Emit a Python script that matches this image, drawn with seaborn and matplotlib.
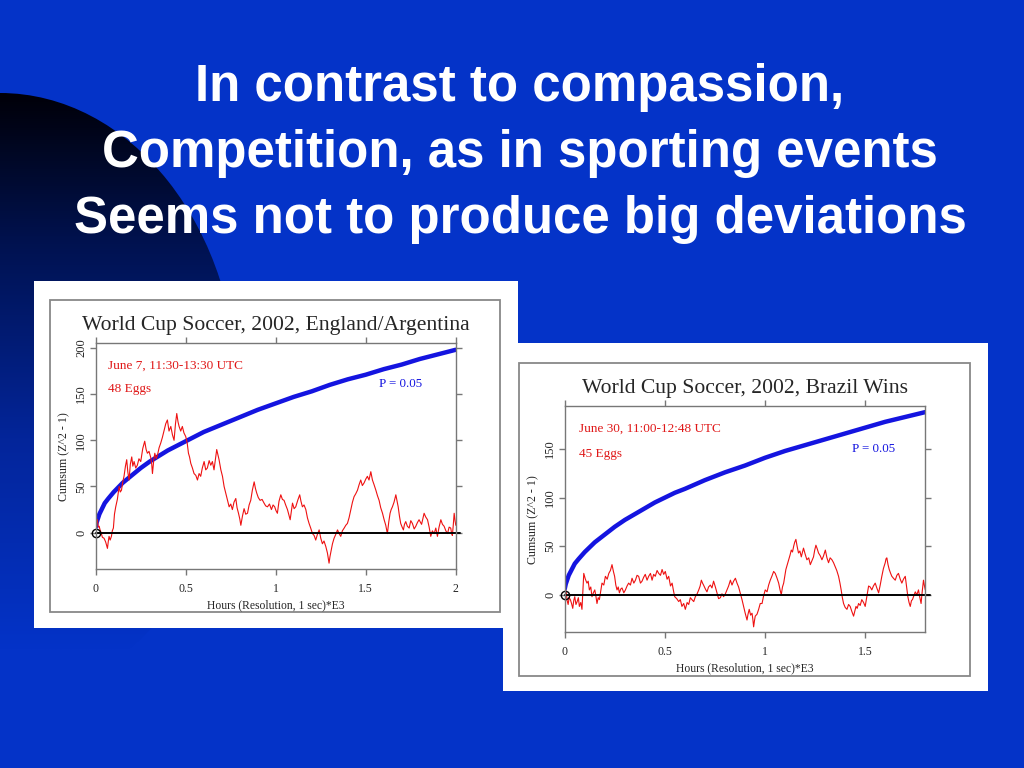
import numpy as np
import pandas as pd
import matplotlib
matplotlib.use('Agg')
import matplotlib.pyplot as plt
import seaborn as sns
from matplotlib.patches import Rectangle, Ellipse
from matplotlib.colors import LinearSegmentedColormap

# Slide title
title_lines = ['In contrast to compassion,',
               'Competition, as in sporting events',
               'Seems not to produce big deviations']

# Chart 1: England / Argentina
eng_title = 'World Cup Soccer, 2002, England/Argentina'
eng_date = 'June 7, 11:30-13:30 UTC'
eng_eggs = '48 Eggs'
eng_x = [0.000, 0.005, 0.009, 0.014, 0.019, 0.024, 0.028, 0.037, 0.046, 0.055,
         0.065, 0.070, 0.074, 0.080, 0.087, 0.092, 0.098, 0.104, 0.111, 0.120,
         0.130, 0.136, 0.143, 0.150, 0.157, 0.165, 0.172, 0.178, 0.185, 0.192,
         0.200, 0.206, 0.213, 0.222, 0.231, 0.240, 0.250, 0.261, 0.272, 0.280,
         0.287, 0.296, 0.306, 0.311, 0.315, 0.322, 0.328, 0.336, 0.343, 0.352,
         0.361, 0.370, 0.380, 0.389, 0.398, 0.407, 0.417, 0.426, 0.435, 0.443,
         0.450, 0.457, 0.463, 0.472, 0.481, 0.490, 0.500, 0.508, 0.515, 0.521,
         0.528, 0.537, 0.546, 0.556, 0.565, 0.574, 0.583, 0.592, 0.602, 0.611,
         0.620, 0.630, 0.639, 0.648, 0.657, 0.665, 0.672, 0.679, 0.685, 0.695,
         0.704, 0.713, 0.722, 0.731, 0.741, 0.750, 0.759, 0.768, 0.778, 0.785,
         0.793, 0.800, 0.806, 0.815, 0.824, 0.833, 0.843, 0.852, 0.861, 0.870,
         0.880, 0.887, 0.894, 0.903, 0.913, 0.924, 0.935, 0.944, 0.954, 0.965,
         0.976, 0.985, 0.994, 1.001, 1.009, 1.018, 1.028, 1.037, 1.046, 1.055,
         1.065, 1.072, 1.080, 1.087, 1.093, 1.102, 1.111, 1.122, 1.133, 1.140,
         1.148, 1.157, 1.167, 1.176, 1.185, 1.194, 1.204, 1.213, 1.222, 1.231,
         1.241, 1.250, 1.259, 1.268, 1.278, 1.287, 1.296, 1.301, 1.306, 1.315,
         1.324, 1.333, 1.343, 1.352, 1.361, 1.370, 1.380, 1.389, 1.398, 1.407,
         1.417, 1.426, 1.435, 1.444, 1.454, 1.463, 1.472, 1.481, 1.491, 1.500,
         1.509, 1.518, 1.528, 1.537, 1.546, 1.556, 1.565, 1.574, 1.583, 1.593,
         1.602, 1.611, 1.620, 1.628, 1.635, 1.641, 1.648, 1.657, 1.667, 1.674,
         1.680, 1.687, 1.694, 1.702, 1.709, 1.715, 1.722, 1.731, 1.741, 1.750,
         1.759, 1.769, 1.778, 1.787, 1.796, 1.810, 1.824, 1.833, 1.843, 1.852,
         1.861, 1.870, 1.880, 1.889, 1.898, 1.907, 1.917, 1.926, 1.935, 1.945,
         1.954, 1.963, 1.972, 1.977, 1.981, 1.986, 1.991, 1.996, 2.000]
eng_y = [5, 12, 14, 6, 7, 3, 1, -5, -6, -10,
         -17, -9, -4, -8, -4, 2, 5, 20, 28, 36,
         50, 44, 46, 55, 61, 72, 79, 66, 57, 74,
         82, 72, 77, 70, 73, 80, 77, 91, 99, 90,
         86, 88, 81, 74, 64, 78, 86, 80, 84, 92,
         97, 103, 111, 118, 122, 110, 115, 106, 100, 118,
         129, 120, 115, 110, 115, 108, 104, 97, 86, 82,
         75, 70, 64, 62, 57, 64, 61, 70, 77, 68,
         70, 78, 73, 77, 68, 80, 90, 84, 79, 68,
         61, 50, 43, 36, 28, 31, 25, 33, 37, 27,
         21, 15, 8, 18, 26, 20, 21, 30, 35, 46,
         55, 48, 43, 38, 35, 36, 32, 29, 28, 31,
         25, 30, 28, 24, 21, 34, 41, 36, 35, 30,
         25, 20, 14, 24, 32, 26, 28, 35, 41, 34,
         28, 30, 25, 16, 10, 5, -1, -3, -8, -2,
         3, -6, -12, -9, -15, -22, -33, -26, -21, -12,
         -6, -2, 3, -1, -4, 2, 5, 8, 10, 16,
         25, 33, 39, 42, 46, 52, 57, 51, 54, 58,
         61, 57, 66, 57, 52, 46, 40, 35, 27, 21,
         14, 8, -1, 12, 21, 25, 28, 33, 41, 34,
         28, 18, 10, 6, 3, 9, 12, 7, 5, 13,
         10, 4, 7, 11, 14, 9, 21, 17, 14, 6,
         -4, 2, -1, 5, -4, 6, 14, 9, 7, 2,
         -1, 6, 5, -1, -3, 8, 21, 13, 8]
eng_env_x = [0, 0.005, 0.01, 0.02, 0.03, 0.05, 0.07, 0.1, 0.15, 0.2, 0.25,
             0.3, 0.35, 0.4, 0.45, 0.5, 0.55, 0.6, 0.7, 0.8, 0.9, 1.0, 1.1,
             1.2, 1.3, 1.4, 1.5, 1.6, 1.7, 1.8, 1.9, 2.0]
eng_env_y = [6, 11, 14, 20, 24, 32, 37, 44, 54, 62, 70,
             77, 83, 89, 94, 99, 104, 109, 117, 125, 133, 140, 147,
             153, 160, 166, 171, 177, 182, 188, 193, 198]

# Chart 2: Brazil wins
bra_title = 'World Cup Soccer, 2002, Brazil Wins'
bra_date = 'June 30, 11:00-12:48 UTC'
bra_eggs = '45 Eggs'
bra_x = [0.000, 0.004, 0.007, 0.012, 0.017, 0.022, 0.028, 0.034, 0.040, 0.045,
         0.050, 0.056, 0.062, 0.068, 0.073, 0.080, 0.086, 0.091, 0.095, 0.103,
         0.111, 0.117, 0.123, 0.130, 0.136, 0.143, 0.150, 0.156, 0.161, 0.167,
         0.173, 0.180, 0.186, 0.195, 0.203, 0.212, 0.220, 0.228, 0.236, 0.243,
         0.249, 0.255, 0.261, 0.267, 0.273, 0.280, 0.286, 0.295, 0.303, 0.311,
         0.319, 0.328, 0.336, 0.345, 0.353, 0.361, 0.369, 0.378, 0.386, 0.394,
         0.402, 0.411, 0.419, 0.428, 0.436, 0.444, 0.452, 0.461, 0.469, 0.478,
         0.486, 0.494, 0.502, 0.511, 0.519, 0.528, 0.536, 0.543, 0.549, 0.559,
         0.569, 0.577, 0.585, 0.594, 0.602, 0.611, 0.619, 0.627, 0.635, 0.644,
         0.652, 0.661, 0.669, 0.676, 0.682, 0.688, 0.693, 0.702, 0.710, 0.718,
         0.727, 0.735, 0.743, 0.752, 0.760, 0.768, 0.777, 0.785, 0.793, 0.802,
         0.810, 0.818, 0.827, 0.835, 0.843, 0.852, 0.860, 0.868, 0.876, 0.885,
         0.893, 0.901, 0.910, 0.915, 0.921, 0.928, 0.935, 0.939, 0.943, 0.947,
         0.951, 0.960, 0.968, 0.976, 0.985, 0.993, 1.001, 1.010, 1.018, 1.026,
         1.034, 1.043, 1.051, 1.060, 1.068, 1.075, 1.081, 1.087, 1.093, 1.099,
         1.104, 1.111, 1.118, 1.125, 1.131, 1.137, 1.143, 1.148, 1.154, 1.160,
         1.167, 1.174, 1.181, 1.187, 1.192, 1.200, 1.209, 1.218, 1.226, 1.234,
         1.242, 1.248, 1.254, 1.261, 1.267, 1.276, 1.284, 1.292, 1.301, 1.309,
         1.317, 1.325, 1.334, 1.342, 1.350, 1.358, 1.367, 1.374, 1.380, 1.386,
         1.392, 1.400, 1.409, 1.417, 1.425, 1.433, 1.442, 1.448, 1.454, 1.460,
         1.467, 1.475, 1.483, 1.492, 1.500, 1.508, 1.517, 1.525, 1.533, 1.541,
         1.550, 1.558, 1.567, 1.575, 1.583, 1.591, 1.600, 1.604, 1.608, 1.614,
         1.620, 1.627, 1.633, 1.641, 1.650, 1.658, 1.666, 1.675, 1.683, 1.691,
         1.700, 1.707, 1.713, 1.719, 1.725, 1.731, 1.736, 1.743, 1.750, 1.758,
         1.766, 1.772, 1.779, 1.785, 1.791, 1.796, 1.800]
bra_y = [0, 5, 3, -6, -10, -3, -5, -9, -14, -6,
         -2, -10, -7, -3, -12, -8, -15, 5, 22, 16,
         12, 14, 5, 8, -2, 2, 5, -2, -9, -3,
         -5, 4, 12, 10, 19, 16, 22, 25, 31, 24,
         19, 10, 5, 8, 2, 6, 7, 2, 5, 9,
         12, 10, 17, 12, 15, 20, 19, 12, 14, 18,
         21, 15, 19, 22, 15, 21, 19, 25, 22, 20,
         26, 21, 24, 16, 19, 9, 12, 4, -2, -4,
         -7, -5, -12, -9, -15, -8, -10, -3, -5, -7,
         -2, 1, 5, 9, 15, 12, 10, 6, 3, 8,
         10, 7, 14, 8, 2, -4, -3, 1, -2, 1,
         5, 9, 15, 10, 14, 17, 12, 8, 2, -5,
         -12, -19, -26, -20, -15, -21, -19, -25, -33, -27,
         -22, -20, -15, -9, -9, -1, 5, 3, 10, 15,
         19, 24, 22, 17, 12, 5, 0, 8, 12, 20,
         26, 31, 36, 41, 46, 44, 50, 54, 57, 50,
         43, 45, 39, 44, 48, 42, 36, 38, 31, 35,
         39, 46, 51, 47, 43, 40, 36, 40, 46, 38,
         33, 38, 36, 33, 29, 25, 19, 12, 5, -3,
         -9, -13, -15, -10, -12, -17, -22, -17, -12, -14,
         -9, -11, -5, -8, -12, -2, 9, 8, 5, 9,
         12, 7, 2, 10, 19, 27, 33, 37, 38, 31,
         26, 22, 19, 17, 15, 20, 22, 16, 12, 16,
         19, 8, -2, -8, -12, -6, -5, -1, 3, 0,
         5, -2, -9, 4, 15, 9, 5]
bra_env_x = [0, 0.005, 0.01, 0.02, 0.03, 0.05, 0.07, 0.1, 0.15, 0.2, 0.25,
             0.3, 0.35, 0.4, 0.45, 0.5, 0.55, 0.6, 0.7, 0.8, 0.9, 1.0, 1.1,
             1.2, 1.3, 1.4, 1.5, 1.6, 1.7, 1.8]
bra_env_y = [6, 11, 14, 20, 24, 32, 37, 44, 54, 62, 70,
             77, 83, 89, 95, 100, 105, 109, 118, 126, 133, 141, 148,
             154, 160, 166, 172, 178, 183, 188]

sns.set_style('white')
plt.rcParams['font.family'] = ['Liberation Serif', 'DejaVu Serif']

fig = plt.figure(figsize=(10.24, 7.68), dpi=100)
fig.patch.set_facecolor('#0433c8')

# background layer in pixel coordinates
bg = fig.add_axes([0, 0, 1, 1])
bg.axis('off')
ell = Ellipse((0, 395), 476, 604, facecolor='none', edgecolor='none')
bg.add_patch(ell)
dark = LinearSegmentedColormap.from_list(
    'dark', [(0.0, '#000008'), (0.27, '#001250'), (0.62, '#03259a'), (1.0, '#0433c8')])
im = bg.imshow(np.linspace(0, 1, 256).reshape(-1, 1), extent=(0, 250, 650, 93),
               cmap=dark, aspect='auto', origin='upper')
im.set_clip_path(ell)
bg.set_xlim(0, 1024)
bg.set_ylim(768, 0)

for yy, line in zip([87, 154, 219], title_lines):
    bg.text(520, yy, line, color='white', fontsize=36.7, fontweight='bold',
            family=['Liberation Sans', 'DejaVu Sans'], ha='center', va='center')

# white picture panels with grey frames
bg.add_patch(Rectangle((34, 281), 484, 347, fc='white', ec='none'))
bg.add_patch(Rectangle((50, 300), 450, 312, fc='none', ec='#888888', lw=1.3))
bg.add_patch(Rectangle((503, 343), 485, 348, fc='white', ec='none'))
bg.add_patch(Rectangle((519, 363), 451, 313, fc='none', ec='#888888', lw=1.3))


def draw_chart(rect, rx, ry, ex, ey, xlim, ylim, xticks, xlabels, yticks,
               title, date, eggs, txt_pos):
    ax = fig.add_axes(rect)
    ax.set_facecolor('white')
    sns.lineplot(x=ex, y=ey, ax=ax, color='#1414e0', lw=3.2, estimator=None)
    sns.lineplot(x=rx, y=ry, ax=ax, color='#ee1111', lw=0.8, estimator=None)
    ax.axhline(0, xmin=0, xmax=1.012, color='black', lw=1.4, clip_on=False)
    ax.plot([0], [0], 'o', mfc='none', mec='black', ms=6, mew=1.0, clip_on=False)
    ax.set_xlim(*xlim)
    ax.set_ylim(*ylim)
    ax.set_xticks(xticks)
    ax.set_xticklabels(xlabels, fontsize=8.5)
    ax.set_yticks(yticks)
    ax.set_yticklabels([str(v) for v in yticks], fontsize=9, rotation=90,
                       va='center')
    for s in ax.spines.values():
        s.set_color('#777777')
        s.set_linewidth(1.0)
        s.set_visible(True)
    ax.tick_params(direction='out', length=4, width=1, color='#777777',
                   top=True, right=True, bottom=True, left=True,
                   labeltop=False, labelright=False)
    ax.tick_params(axis='x', pad=6)
    ax.tick_params(axis='y', pad=2)
    ax.set_xlabel('')
    ax.set_ylabel('')
    ax.text(0.5, 1.081, title, transform=ax.transAxes, fontsize=15.6,
            ha='center', va='center')
    ax.text(txt_pos[0], txt_pos[1], date, transform=ax.transAxes,
            fontsize=9.5, color='#e01818', ha='left', va='center')
    ax.text(txt_pos[0], txt_pos[2], eggs, transform=ax.transAxes,
            fontsize=9.5, color='#e01818', ha='left', va='center')
    ax.text(txt_pos[3], txt_pos[4], 'P = 0.05', transform=ax.transAxes,
            fontsize=9.3, color='#1414e0', ha='center', va='center')
    ax.text(0.5, -0.161, 'Hours (Resolution, 1 sec)*E3', transform=ax.transAxes,
            fontsize=8.4, ha='center', va='center')
    ax.text(-0.087, 0.497, 'Cumsum (Z^2 - 1)', transform=ax.transAxes,
            fontsize=8.6, ha='center', va='center', rotation=90)
    return ax


draw_chart([0.0935, 0.2595, 0.3516, 0.2935], eng_x, eng_y, eng_env_x, eng_env_y,
           (0, 2), (-39, 205), [0, 0.5, 1, 1.5, 2], ['0', '0.5', '1', '1.5', '2'],
           [0, 50, 100, 150, 200], eng_title, eng_date, eng_eggs,
           (0.034, 0.899, 0.796, 0.848, 0.819))

draw_chart([0.5515, 0.1775, 0.3521, 0.2935], bra_x, bra_y, bra_env_x, bra_env_y,
           (0, 1.8), (-38, 194), [0, 0.5, 1, 1.5], ['0', '0.5', '1', '1.5'],
           [0, 50, 100, 150], bra_title, bra_date, bra_eggs,
           (0.039, 0.899, 0.790, 0.857, 0.812))

fig.savefig('out.png', dpi=100, facecolor=fig.get_facecolor())
